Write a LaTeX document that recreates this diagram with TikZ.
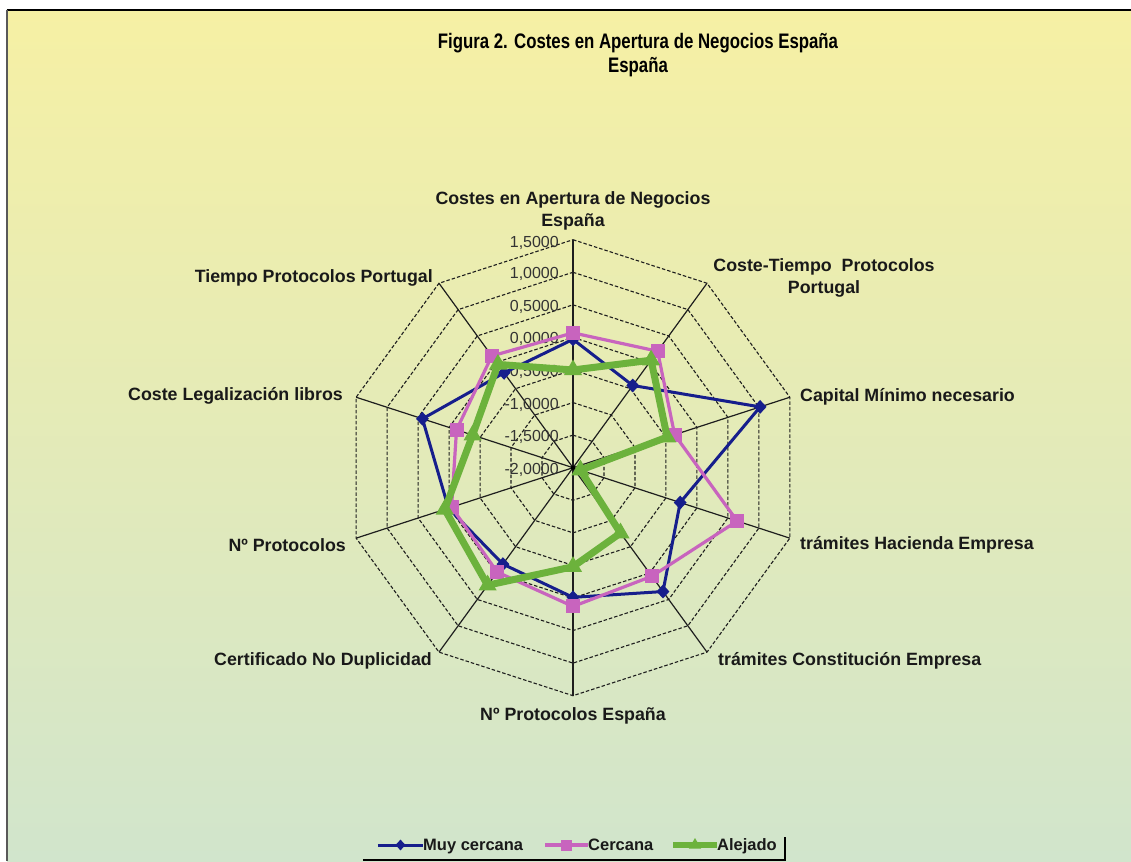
\documentclass[tikz,border=0pt]{standalone}
\usepackage{fontspec}
\setmainfont{Liberation Sans}
\newfontfamily\titlefont[FakeStretch=0.8]{Liberation Sans}
\usetikzlibrary{shapes.geometric,calc}

\definecolor{muyblue}{RGB}{22,30,140}
\definecolor{cercpink}{RGB}{200,100,190}
\definecolor{alegreen}{RGB}{108,178,60}
\definecolor{bgtop}{RGB}{246,240,164}
\definecolor{bgbot}{RGB}{209,229,204}
\definecolor{gridgray}{RGB}{30,30,30}

\newcommand{\lblfont}{\bfseries\fontsize{17.8}{21.5}\selectfont}
\newcommand{\tickfont}{\fontsize{16}{18}\selectfont}
\newcommand{\legfont}{\bfseries\fontsize{16.5}{18}\selectfont}
\def\ringstep{32.57}
\def\unitr{65.14}

\begin{document}
\begin{tikzpicture}[x=1pt,y=1pt,
    axis/.style={gridgray,line width=1.2},
    ring/.style={gridgray,line width=1.1,dash pattern=on 3.5pt off 2pt},
    lbl/.style={font=\lblfont,text=black!90,inner sep=0pt,align=center},
    ticklbl/.style={font=\tickfont,text=black!80,inner sep=0pt,anchor=east},
    muyline/.style={muyblue,line width=3,line join=round},
    cerline/.style={cercpink,line width=3.2,line join=round},
    aleline/.style={alegreen,line width=7,line join=round},
    muymark/.style={diamond,fill=muyblue,inner sep=0pt,minimum width=13,minimum height=14},
    cermark/.style={rectangle,fill=cercpink,inner sep=0pt,minimum size=14},
    alemark/.style={regular polygon,regular polygon sides=3,fill=alegreen,inner sep=0pt,minimum size=21},
    legtxt/.style={font=\legfont,text=black!90,inner sep=0pt,anchor=base west}]

  % page and chart area
  \useasboundingbox (-573,-393.3) rectangle (558,467.7);
  \fill[white] (-573,-393.3) rectangle (558,467.7);
  \shade[top color=bgtop,bottom color=bgbot] (-566,457.7) rectangle (558,-393.3);
  \draw[black,line width=2] (-566,457.7) -- (558,457.7);
  \draw[black!65,line width=2] (-566,457.7) -- (-566,-393.3);

  % title
  \node[font=\titlefont\bfseries\fontsize{21}{24}\selectfont,align=center,inner sep=0pt] (title)
    at (65,412.7) {Figura 2. Costes en Apertura de Negocios España\\España};

  % grid
  \coordinate (c) at (0,0);
  \foreach \i in {1,...,10}
    \coordinate (a\i) at ({90-36*(\i-1)}:{3.5*\unitr});
  \foreach \k in {1,...,7}
    \draw[ring] (90:{\k*\ringstep}) \foreach \a in {54,18,-18,-54,-90,-126,-162,-198,-234} { -- (\a:{\k*\ringstep}) } -- cycle;
  \foreach \i in {1,...,10}
    \draw[axis] (c) -- (a\i);
  \fill[black] (c) circle (2.2);

  % tick labels
  \node[ticklbl] (t0) at (-14,{0*\ringstep-2}) {-2,0000};
  \node[ticklbl] (t1) at (-14,{1*\ringstep-2}) {-1,5000};
  \node[ticklbl] (t2) at (-14,{2*\ringstep-2}) {-1,0000};
  \node[ticklbl] (t3) at (-14,{3*\ringstep-2}) {-0,5000};
  \node[ticklbl] (t4) at (-14,{4*\ringstep-2}) {0,0000};
  \node[ticklbl] (t5) at (-14,{5*\ringstep-2}) {0,5000};
  \node[ticklbl] (t6) at (-14,{6*\ringstep-2}) {1,0000};
  \node[ticklbl] (t7) at (-14,{7*\ringstep-3}) {1,5000};

  % axis labels
  \node[lbl] (costes) at (0,257) {Costes en Apertura de Negocios\\España};
  \node[lbl] (costetiempo) at (251,189.7) {Coste-Tiempo\ \ Protocolos\\Portugal};
  \node[lbl,anchor=west] (capital) at (227,70.7) {Capital Mínimo necesario};
  \node[lbl,anchor=west] (hacienda) at (227,-77.3) {trámites Hacienda Empresa};
  \node[lbl,anchor=west] (constit) at (145,-193.3) {trámites Constitución Empresa};
  \node[lbl] (protesp) at (0,-248.3) {Nº Protocolos España};
  \node[lbl,anchor=east] (certif) at (-141,-193.3) {Certificado No Duplicidad};
  \node[lbl,anchor=east] (protoc) at (-227,-77.3) {Nº Protocolos};
  \node[lbl,anchor=east] (legal) at (-230,71.7) {Coste Legalización libros};
  \node[lbl,anchor=east] (tiempo) at (-140,190) {Tiempo Protocolos Portugal};

  % data
  \foreach \v [count=\i] in {-0.03,-0.44,1.02,-0.27,0.35,-0.01,-0.17,0.01,0.43,-0.20}
    \coordinate (muy\i) at ({90-36*(\i-1)}:{(\v+2)*\unitr});
  \foreach \v [count=\i] in {0.07,0.21,-0.36,0.65,0.06,0.13,-0.02,-0.04,-0.12,0.12}
    \coordinate (cer\i) at ({90-36*(\i-1)}:{(\v+2)*\unitr});
  \foreach \v [count=\i] in {-0.50,0.04,-0.48,-1.88,-0.76,-0.48,0.23,0.07,-0.38,-0.04}
    \coordinate (ale\i) at ({90-36*(\i-1)}:{(\v+2)*\unitr});

  \draw[muyline] (muy1) \foreach \i in {2,...,10} { -- (muy\i) } -- cycle;
  \foreach \i in {1,...,10} \node[muymark] (muym\i) at (muy\i) {};
  \draw[cerline] (cer1) \foreach \i in {2,...,10} { -- (cer\i) } -- cycle;
  \foreach \i in {1,...,10} \node[cermark] (cerm\i) at (cer\i) {};
  \draw[aleline] (ale1) \foreach \i in {2,...,10} { -- (ale\i) } -- cycle;
  \foreach \i in {1,...,10} \node[alemark] (alem\i) at (ale\i) {};

  % legend
  \node[legtxt] (legmuy) at (-150,-383) {Muy cercana};
  \node[legtxt] (legcer) at (15,-383) {Cercana};
  \node[legtxt] (legale) at (144,-383) {Alejado};
  \coordinate (lm) at (-195,-377.3);
  \coordinate (lc) at (-28,-377.3);
  \coordinate (la) at (100,-377.3);
  \coordinate (lme) at (-150,-377.3);
  \coordinate (lce) at (15,-377.3);
  \coordinate (lae) at (144,-377.3);
  \draw[muyline] (lm) -- (lme);
  \draw[cerline,line width=4] (lc) -- (lce);
  \draw[aleline,line width=5.5] (la) -- (lae);
  \node[muymark,minimum width=10,minimum height=11] (legmuym) at ($(lm)!0.5!(lme)$) {};
  \node[cermark,minimum size=11] (legcerm) at ($(lc)!0.5!(lce)$) {};
  \node[alemark,minimum size=14] (legalem) at ($(la)!0.5!(lae)$) {};
  \draw[black,line width=2] (-210,-392) -- (212,-392) -- (212,-369);
\end{tikzpicture}
\end{document}
